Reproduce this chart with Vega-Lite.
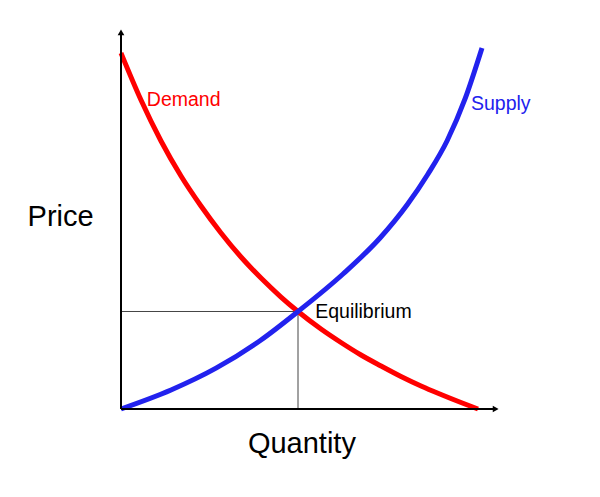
{
  "$schema": "https://vega.github.io/schema/vega-lite/v6.json",
  "autosize": "none",
  "width": 380,
  "height": 380,
  "padding": {"left": 121, "top": 29, "right": 99, "bottom": 88},
  "background": "white",
  "config": {"view": {"stroke": null}, "font": "Liberation Sans"},
  "datasets": {
    "curves": [
      {"curve": "Demand", "q": 0, "p": 93.68},
      {"curve": "Demand", "q": 5.26, "p": 81.32},
      {"curve": "Demand", "q": 10.53, "p": 70.53},
      {"curve": "Demand", "q": 15.79, "p": 61.32},
      {"curve": "Demand", "q": 21.05, "p": 53.42},
      {"curve": "Demand", "q": 26.32, "p": 46.32},
      {"curve": "Demand", "q": 31.58, "p": 40.0},
      {"curve": "Demand", "q": 36.84, "p": 34.47},
      {"curve": "Demand", "q": 42.11, "p": 29.47},
      {"curve": "Demand", "q": 46.58, "p": 25.66},
      {"curve": "Demand", "q": 52.63, "p": 21.05},
      {"curve": "Demand", "q": 57.89, "p": 17.5},
      {"curve": "Demand", "q": 63.16, "p": 14.21},
      {"curve": "Demand", "q": 68.42, "p": 11.32},
      {"curve": "Demand", "q": 73.68, "p": 8.55},
      {"curve": "Demand", "q": 78.95, "p": 6.05},
      {"curve": "Demand", "q": 84.21, "p": 3.82},
      {"curve": "Demand", "q": 89.47, "p": 1.71},
      {"curve": "Demand", "q": 93.95, "p": 0},
      {"curve": "Supply", "q": 0, "p": 0},
      {"curve": "Supply", "q": 13.16, "p": 5.0},
      {"curve": "Supply", "q": 25.0, "p": 10.74},
      {"curve": "Supply", "q": 36.84, "p": 18.16},
      {"curve": "Supply", "q": 46.58, "p": 25.66},
      {"curve": "Supply", "q": 58.42, "p": 35.53},
      {"curve": "Supply", "q": 68.16, "p": 45.0},
      {"curve": "Supply", "q": 75.26, "p": 53.68},
      {"curve": "Supply", "q": 80.79, "p": 61.84},
      {"curve": "Supply", "q": 85.79, "p": 70.53},
      {"curve": "Supply", "q": 90.53, "p": 81.58},
      {"curve": "Supply", "q": 95.0, "p": 95.0}
    ],
    "guides": [
      {"q": 0, "p": 25.66, "q2": 46.58, "p2": 25.66},
      {"q": 46.58, "p": 0, "q2": 46.58, "p2": 25.66}
    ],
    "axes": [
      {"q": 0, "p": 0, "q2": 98, "p2": 0},
      {"q": 0, "p": 0, "q2": 0, "p2": 98.5}
    ],
    "arrows": [
      {"q": 98.6, "p": 0, "shape": "triangle-right"},
      {"q": 0, "p": 99.1, "shape": "triangle-up"}
    ],
    "labels": [
      {"text": "Demand", "q": 6.8, "p": 79.7, "color": "Demand"},
      {"text": "Supply", "q": 92.1, "p": 78.7, "color": "Supply"},
      {"text": "Equilibrium", "q": 51.1, "p": 23.9, "color": "Black"}
    ],
    "titles": [
      {"text": "Price", "q": -15.9, "p": 48.2},
      {"text": "Quantity", "q": 47.6, "p": -11.6}
    ]
  },
  "layer": [
    {
      "data": {"name": "guides"},
      "mark": {"type": "rule", "color": "#444444", "strokeWidth": 1},
      "encoding": {
        "x": {"field": "q", "type": "quantitative", "scale": {"domain": [0, 100]}, "axis": null},
        "y": {"field": "p", "type": "quantitative", "scale": {"domain": [0, 100]}, "axis": null},
        "x2": {"field": "q2"},
        "y2": {"field": "p2"}
      }
    },
    {
      "data": {"name": "curves"},
      "mark": {"type": "line", "strokeWidth": 5, "interpolate": "monotone"},
      "encoding": {
        "x": {"field": "q", "type": "quantitative", "scale": {"domain": [0, 100]}, "axis": null},
        "y": {"field": "p", "type": "quantitative", "scale": {"domain": [0, 100]}, "axis": null},
        "color": {"field": "curve", "type": "nominal", "scale": {"domain": ["Demand", "Supply", "Black"], "range": ["#ff0000", "#2222ee", "#000000"]}, "legend": null},
        "order": {"field": "q", "type": "quantitative"}
      }
    },
    {
      "data": {"name": "axes"},
      "mark": {"type": "rule", "color": "#000000", "strokeWidth": 2},
      "encoding": {
        "x": {"field": "q", "type": "quantitative", "scale": {"domain": [0, 100]}, "axis": null},
        "y": {"field": "p", "type": "quantitative", "scale": {"domain": [0, 100]}, "axis": null},
        "x2": {"field": "q2"},
        "y2": {"field": "p2"}
      }
    },
    {
      "data": {"name": "arrows"},
      "mark": {"type": "point", "filled": true, "color": "#000000", "size": 45, "opacity": 1},
      "encoding": {
        "x": {"field": "q", "type": "quantitative", "scale": {"domain": [0, 100]}, "axis": null},
        "y": {"field": "p", "type": "quantitative", "scale": {"domain": [0, 100]}, "axis": null},
        "shape": {"field": "shape", "type": "nominal", "scale": null}
      }
    },
    {
      "data": {"name": "labels"},
      "mark": {"type": "text", "fontSize": 19.5, "align": "left", "baseline": "alphabetic"},
      "encoding": {
        "x": {"field": "q", "type": "quantitative", "scale": {"domain": [0, 100]}, "axis": null},
        "y": {"field": "p", "type": "quantitative", "scale": {"domain": [0, 100]}, "axis": null},
        "text": {"field": "text"},
        "color": {"field": "color", "type": "nominal", "scale": {"domain": ["Demand", "Supply", "Black"], "range": ["#ff0000", "#2222ee", "#000000"]}, "legend": null}
      }
    },
    {
      "data": {"name": "titles"},
      "mark": {"type": "text", "fontSize": 29, "align": "center", "baseline": "alphabetic", "color": "#000000"},
      "encoding": {
        "x": {"field": "q", "type": "quantitative", "scale": {"domain": [0, 100]}, "axis": null},
        "y": {"field": "p", "type": "quantitative", "scale": {"domain": [0, 100]}, "axis": null},
        "text": {"field": "text"}
      }
    }
  ]
}
